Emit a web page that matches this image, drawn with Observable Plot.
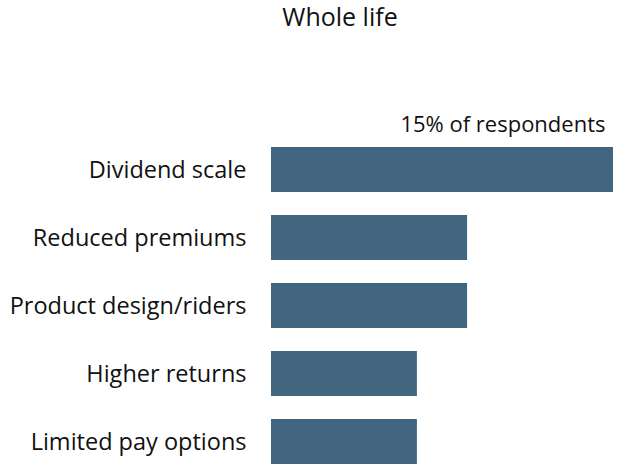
<!DOCTYPE html>
<html>
<head>
<meta charset="utf-8">
<script src="https://cdn.jsdelivr.net/npm/d3@7"></script>
<script src="https://cdn.jsdelivr.net/npm/@observablehq/plot@0.6"></script>
<style>
  html, body { margin: 0; padding: 0; background: #fff; }
  #title { height: 40px; width: 620px; box-sizing: border-box; padding-left: 60px; text-align: center;
           font-family: "Open Sans", sans-serif; font-size: 25px; line-height: 32px; color: #111; }
</style>
</head>
<body>
<div id="title">Whole life</div>
<div id="chart"></div>
<script>
const categories = ["Dividend scale", "Reduced premiums", "Product design/riders", "Higher returns", "Limited pay options"];
const values = [15, 8.6, 8.6, 6.4, 6.4];
const annotation = "15% of respondents";

const data = categories.map((c, i) => ({category: c, value: values[i]}));

const chart = Plot.plot({
  width: 620,
  height: 426,
  marginTop: 106,
  marginBottom: 0,
  marginLeft: 271,
  marginRight: 7,
  style: {fontFamily: "'Open Sans', sans-serif", color: "#111", background: "#fff"},
  x: {domain: [0, 15], axis: null},
  y: {domain: categories, paddingInner: 0.337, paddingOuter: 0, label: null},
  marks: [
    Plot.barX(data, {x: "value", y: "category", fill: "#436680"}),
    Plot.axisY({tickSize: 0, tickPadding: 25, fontSize: 23.5, label: null}),
    Plot.text([data[0]], {x: "value", y: "category", text: () => annotation, textAnchor: "end",
      dx: -8, dy: -45, fontSize: 22, fill: "#111"})
  ]
});
document.getElementById("chart").appendChild(chart);
</script>
</body>
</html>
